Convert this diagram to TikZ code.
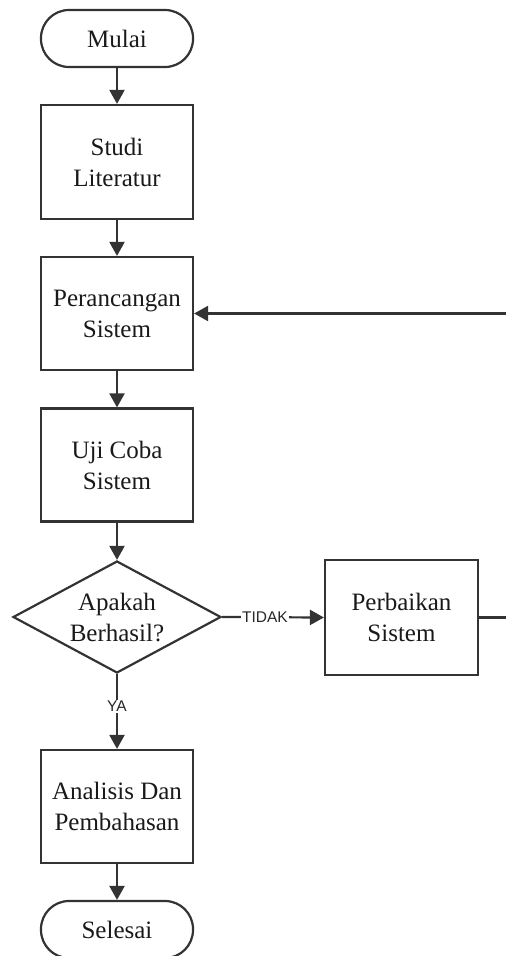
\documentclass[tikz,border=0pt]{standalone}
\usepackage{fontspec}
\setmainfont{Liberation Serif}
\newfontfamily\labelfont{Liberation Sans}
\usetikzlibrary{shapes.geometric,arrows.meta}
\definecolor{lc}{HTML}{333333}
\tikzset{
  base/.style={draw=lc, line width=2.2pt, align=center, text=black!90,
    font=\fontsize{25pt}{31pt}\selectfont, inner sep=0pt},
  term/.style={base, rectangle, rounded corners=28pt, minimum width=152pt, minimum height=57pt},
  procbox/.style={base, rectangle, minimum width=152pt, minimum height=113pt},
  decide/.style={base, diamond, aspect=1.857, minimum width=208pt, minimum height=112pt},
  conn/.style={draw=lc, line width=2.2pt, -{Triangle[length=14pt,width=15pt]}},
  lab/.style={fill=white, inner sep=1pt, text=black!85, font=\labelfont\fontsize{15.5pt}{17pt}\selectfont}
}
\begin{document}
\begin{tikzpicture}[x=1pt,y=1pt]
\useasboundingbox (0,0) rectangle (506,-956);
\node[term] (mulai) at (117,-38.5) {Mulai};
\node[procbox, minimum height=114pt] (studi) at (117,-162) {Studi\\Literatur};
\node[procbox] (peran) at (117,-313.5) {Perancangan\\Sistem};
\node[procbox] (uji) at (117,-465) {Uji Coba\\Sistem};
\node[decide] (dia) at (117,-617) {Apakah\\Berhasil?};
\node[procbox, minimum width=153pt, minimum height=115pt] (perb) at (401.5,-617.5) {Perbaikan\\Sistem};
\node[procbox] (anal) at (117,-806.5) {Analisis Dan\\Pembahasan};
\node[term] (selesai) at (117,-929.5) {Selesai};
\coordinate (cR) at (508,-617.5);

\draw[conn] (mulai) -- (studi);
\draw[conn] (studi) -- (peran);
\draw[conn] (peran) -- (uji);
\draw[conn] (uji) -- (dia);
\draw[conn] (dia.east) -- node[lab, pos=0.42] {TIDAK} (perb.west);
\draw[conn] (dia.south) -- node[lab, pos=0.43] {YA} (anal.north);
\draw[conn] (anal) -- (selesai);
\draw[conn] (perb.east) -- (cR) |- (peran.east);
\end{tikzpicture}
\end{document}
